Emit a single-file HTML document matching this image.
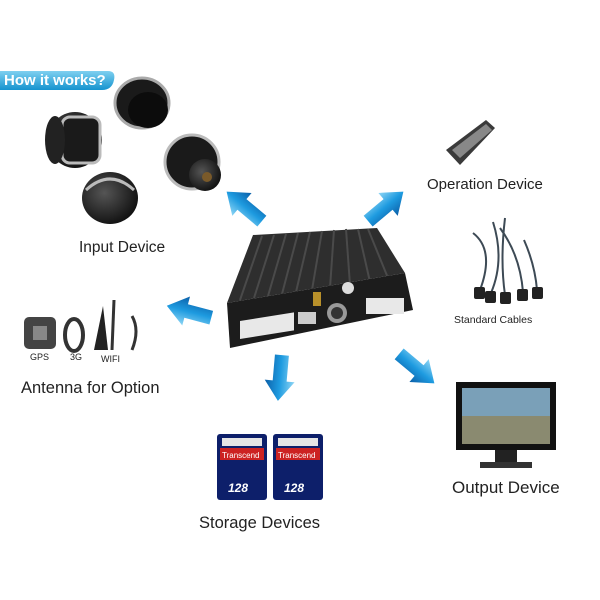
<!DOCTYPE html>
<html><head><meta charset="utf-8"><style>
body{margin:0;width:600px;height:600px;background:#fff;position:relative;overflow:hidden;font-family:"Liberation Sans",sans-serif}
.t{position:absolute;color:#222;white-space:nowrap}
</style></head><body>
<svg width="600" height="600" style="position:absolute;left:0;top:0">
<defs>
<linearGradient id="ab" x1="0" y1="0" x2="0" y2="1"><stop offset="0" stop-color="#8fd6f5"/><stop offset=".5" stop-color="#1e9be0"/><stop offset="1" stop-color="#0b5fa8"/></linearGradient>
<linearGradient id="hw" x1="0" y1="0" x2="0" y2="1"><stop offset="0" stop-color="#7fd0f0"/><stop offset="1" stop-color="#1593cf"/></linearGradient>
<g id="arr"><polygon points="-22,-7 4,-7 4,-15 24,0 4,15 4,7 -22,7" fill="url(#ab)"/></g>
<radialGradient id="cam" cx=".4" cy=".4" r=".7"><stop offset="0" stop-color="#555"/><stop offset="1" stop-color="#0a0a0a"/></radialGradient>
</defs>
<path d="M0,71 H108 Q116,71 114,80 Q112,90 102,90 H0 Z" fill="url(#hw)"/>
<g><ellipse cx="75" cy="140" rx="27" ry="28" fill="url(#cam)"/><rect x="62" y="117" width="38" height="46" rx="8" fill="#1a1a1a" stroke="#bbb" stroke-width="3"/><ellipse cx="55" cy="140" rx="10" ry="24" fill="#222"/></g>
<g><ellipse cx="142" cy="103" rx="27" ry="25" fill="#1a1a1a" stroke="#aaa" stroke-width="3"/><ellipse cx="148" cy="110" rx="20" ry="18" fill="#0c0c0c"/></g>
<g><ellipse cx="192" cy="162" rx="27" ry="27" fill="#1a1a1a" stroke="#bbb" stroke-width="3"/><circle cx="205" cy="175" r="16" fill="url(#cam)"/><circle cx="207" cy="177" r="5" fill="#7a5a2a"/></g>
<g><ellipse cx="110" cy="198" rx="28" ry="26" fill="url(#cam)"/><path d="M86,190 Q110,168 134,190" stroke="#bbb" stroke-width="3" fill="none"/></g>
<use href="#arr" transform="translate(245,207) rotate(-140)"/>
<use href="#arr" transform="translate(385,207) rotate(-40)"/>
<use href="#arr" transform="translate(190,312) rotate(195)"/>
<use href="#arr" transform="translate(280,377) rotate(95)"/>
<use href="#arr" transform="translate(416,368) rotate(40)"/>
<polygon points="253,235 377,228 405,273 227,303" fill="#2e2e2e"/>
<g stroke="#4a4a4a" stroke-width="2">
<line x1="262" y1="236" x2="240" y2="300"/><line x1="274" y1="235" x2="254" y2="298"/><line x1="286" y1="234" x2="268" y2="296"/><line x1="298" y1="233" x2="282" y2="294"/><line x1="310" y1="232" x2="296" y2="292"/><line x1="322" y1="231" x2="312" y2="290"/><line x1="334" y1="230" x2="330" y2="288"/><line x1="346" y1="229" x2="350" y2="285"/><line x1="358" y1="229" x2="370" y2="282"/><line x1="368" y1="229" x2="388" y2="278"/>
</g>
<polygon points="227,303 405,273 413,310 230,348" fill="#1c1c1c"/>
<rect x="240" y="315" width="54" height="18" fill="#e8e8e8" transform="skewY(-9) translate(0,44)"/>
<rect x="366" y="298" width="38" height="16" fill="#e8e8e8"/>
<rect x="298" y="312" width="18" height="12" fill="#ccc"/>
<circle cx="337" cy="313" r="10" fill="#999"/><circle cx="337" cy="313" r="6" fill="#333"/>
<circle cx="348" cy="288" r="6" fill="#ddd"/>
<rect x="313" y="292" width="8" height="14" fill="#b8902a"/>
<!-- remote -->
<polygon points="446,150 486,120 495,128 460,165" fill="#3a3a3a"/>
<polygon points="452,150 486,124 492,130 460,158" fill="#888"/>
<!-- cables -->
<g stroke="#3d4a55" stroke-width="2" fill="none">
<path d="M473,233 Q495,250 480,290"/><path d="M493,222 Q505,260 491,293"/><path d="M505,218 Q500,260 505,295"/><path d="M500,228 Q520,255 523,292"/><path d="M524,240 Q535,265 537,290"/></g>
<g fill="#222"><rect x="474" y="287" width="11" height="12" rx="2"/><rect x="485" y="291" width="11" height="12" rx="2"/><rect x="500" y="292" width="11" height="12" rx="2"/><rect x="517" y="289" width="11" height="12" rx="2"/><rect x="532" y="287" width="11" height="12" rx="2"/></g>
<rect x="24" y="317" width="32" height="32" rx="5" fill="#444"/><rect x="33" y="326" width="14" height="14" fill="#888"/>
<ellipse cx="74" cy="335" rx="9" ry="16" fill="none" stroke="#333" stroke-width="4"/>
<path d="M94,350 L103,306 L108,350 Z" fill="#222"/><line x1="112" y1="350" x2="114" y2="300" stroke="#333" stroke-width="3"/>
<path d="M132,316 Q140,330 132,350" stroke="#333" stroke-width="3" fill="none"/>
<rect x="456" y="382" width="100" height="68" fill="#111"/><rect x="462" y="388" width="88" height="56" fill="#7aa0b8"/>
<rect x="462" y="416" width="88" height="28" fill="#8a8a70"/>
<rect x="495" y="450" width="22" height="12" fill="#222"/><rect x="480" y="462" width="52" height="6" fill="#333"/>
<g><rect x="217" y="434" width="50" height="66" rx="3" fill="#0d1f6a"/><rect x="220" y="448" width="44" height="12" fill="#c22"/><rect x="222" y="438" width="40" height="8" fill="#e5e5e5"/></g>
<g><rect x="273" y="434" width="50" height="66" rx="3" fill="#0d1f6a"/><rect x="276" y="448" width="44" height="12" fill="#c22"/><rect x="278" y="438" width="40" height="8" fill="#e5e5e5"/></g>
<text x="222" y="458" font-size="8" fill="#fff" font-family="Liberation Sans">Transcend</text>
<text x="278" y="458" font-size="8" fill="#fff" font-family="Liberation Sans">Transcend</text>
<text x="228" y="492" font-size="12" fill="#fff" font-weight="bold" font-style="italic" font-family="Liberation Sans">128</text>
<text x="284" y="492" font-size="12" fill="#fff" font-weight="bold" font-style="italic" font-family="Liberation Sans">128</text>
</svg>
<div class="t" style="left:4px;top:72px;font-size:15px;font-weight:bold;color:#fff">How it works?</div>
<div class="t" style="left:79px;top:239px;font-size:15.5px">Input Device</div>
<div class="t" style="left:427px;top:176px;font-size:15px">Operation Device</div>
<div class="t" style="left:454px;top:314px;font-size:10.5px">Standard Cables</div>
<div class="t" style="left:30px;top:352px;font-size:9px">GPS</div>
<div class="t" style="left:70px;top:352px;font-size:9px">3G</div>
<div class="t" style="left:101px;top:354px;font-size:9px">WIFI</div>
<div class="t" style="left:21px;top:379px;font-size:16.5px">Antenna for Option</div>
<div class="t" style="left:452px;top:478px;font-size:17px">Output Device</div>
<div class="t" style="left:199px;top:514px;font-size:16.5px">Storage Devices</div>
</body></html>
